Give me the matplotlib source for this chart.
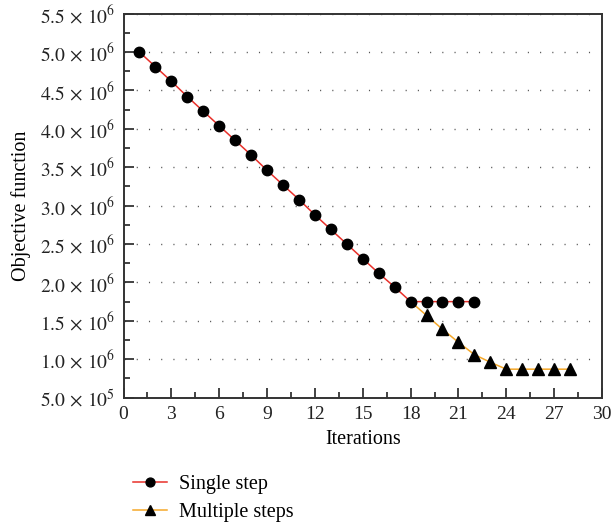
import matplotlib
matplotlib.use("Agg")
import matplotlib.pyplot as plt
from matplotlib.ticker import MultipleLocator, FuncFormatter

# Data
single_x = list(range(1, 23))
single_y = [5.00e6, 4.81e6, 4.62e6, 4.42e6, 4.23e6, 4.04e6, 3.85e6, 3.66e6,
            3.46e6, 3.27e6, 3.08e6, 2.88e6, 2.69e6, 2.50e6, 2.31e6, 2.12e6,
            1.94e6, 1.75e6, 1.75e6, 1.75e6, 1.75e6, 1.75e6]
multi_x = list(range(18, 29))
multi_y = [1.75e6, 1.57e6, 1.39e6, 1.22e6, 1.06e6, 0.96e6, 0.87e6, 0.87e6,
           0.87e6, 0.87e6, 0.87e6]

plt.rcParams["font.family"] = ["Liberation Serif", "DejaVu Serif"]
plt.rcParams["mathtext.fontset"] = "stix"
plt.rcParams["lines.scale_dashes"] = False


def sci_label(v, pos):
    exp = 6 if v >= 1e6 else 5
    return r"$%.1f\,\times\,10^{%d}$" % (v / 10 ** exp, exp)


fig = plt.figure(figsize=(6.13, 5.28), dpi=100)
ax = fig.add_axes([0.2015, 0.247, 0.7805, 0.727])

ax.plot(multi_x, multi_y, color="#f5a82a", lw=1.1, marker="^", ms=8.5,
        mfc="black", mec="black", markevery=slice(1, None),
        label="Multiple steps", zorder=3)
ax.plot(single_x, single_y, color="#e8302a", lw=1.1, marker="o", ms=7.5,
        mfc="black", mec="black", label="Single step", zorder=4)

ax.set_xlim(0, 30)
ax.set_ylim(5e5, 5.5e6)
ax.xaxis.set_major_locator(MultipleLocator(3))
ax.xaxis.set_minor_locator(MultipleLocator(1.5))
ax.yaxis.set_major_locator(MultipleLocator(5e5))
ax.yaxis.set_minor_locator(MultipleLocator(2.5e5))
ax.yaxis.set_major_formatter(FuncFormatter(sci_label))

ax.tick_params(which="both", direction="in", labelsize=14, colors="#222222")
ax.tick_params(which="major", length=7, width=1.2, pad=6)
ax.tick_params(which="minor", length=4, width=1.2)
for s in ax.spines.values():
    s.set_linewidth(1.4)
    s.set_color("#333333")

ax.yaxis.grid(True, linestyle=(0, (0.8, 8.0)), color="#555555", lw=1.0)
ax.set_axisbelow(True)

ax.set_xlabel("Iterations", fontsize=14.5, labelpad=5)
ax.set_ylabel("Objective function", fontsize=14.5, labelpad=6)

handles, labels = ax.get_legend_handles_labels()
fig.legend(handles[::-1], labels[::-1], loc="upper left",
           bbox_to_anchor=(0.2, 0.12), frameon=False, fontsize=14.5,
           handlelength=1.7, handletextpad=0.6, labelspacing=0.45,
           borderpad=0, markerscale=0.85)

fig.savefig("out.png", dpi=100)
